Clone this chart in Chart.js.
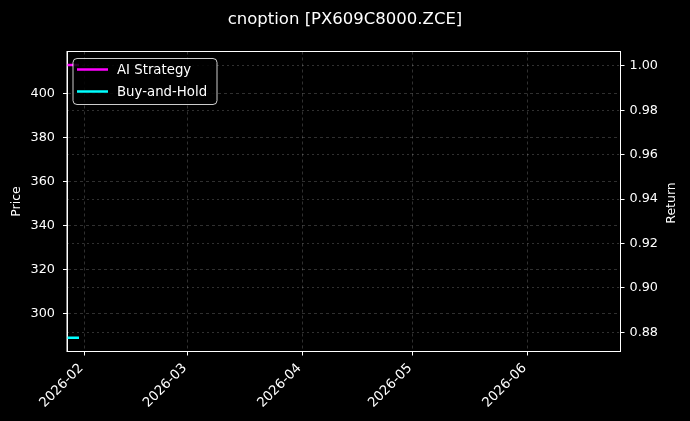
<!DOCTYPE html>
<html>
<head>
<meta charset="utf-8">
<script src="https://cdn.jsdelivr.net/npm/chart.js@4.4.1/dist/chart.umd.min.js"></script>
<style>
  html, body { margin: 0; padding: 0; background: #000; }
  #wrap { width: 690px; height: 421px; position: relative; }
</style>
</head>
<body>
<div id="wrap"><canvas id="chart"></canvas></div>
<script>
// ===== DATA =====
const dates = ['2026-01-27T07:00', '2026-01-28T12:00', '2026-01-29T12:00', '2026-01-30T13:00'];
const aiStrategy = [1.0004, 1.0004, 1.0004, 1.0004];
const buyAndHold = [0.8775, 0.8775, 0.8775, 0.8775];
const xTickLabels = ['2026-02', '2026-03', '2026-04', '2026-05', '2026-06'];
const priceTicks = [300, 320, 340, 360, 380, 400];
const returnTicks = [0.88, 0.90, 0.92, 0.94, 0.96, 0.98, 1.00];
const xRange = ['2026-01-27T07:00', '2026-06-26T05:00'];
const priceRange = [282.7, 419.1];
const returnRange = [0.87135, 1.00653];

const toMs = s => Date.parse(s.length === 7 ? s + '-01T00:00:00Z' : s + ':00Z');
const fmtMonth = v => {
    const d = new Date(v);
    return d.getUTCFullYear() + '-' + String(d.getUTCMonth() + 1).padStart(2, '0');
};

const FONT = "'DejaVu Sans', sans-serif";
const GRID = 'rgba(255,255,255,0.19)';

// ===== PLUGINS =====
const framePlugin = {
    id: 'frame',
    afterDatasetsDraw(chart) {
        const { ctx, chartArea: a } = chart;
        ctx.save();
        ctx.strokeStyle = '#fff';
        ctx.lineWidth = 1;
        ctx.strokeRect(a.left, a.top, a.right - a.left, a.bottom - a.top);
        ctx.restore();
    }
};

// right axis title reads bottom-to-top, like the left one
const returnTitle = {
    id: 'returnTitle',
    afterDraw(chart) {
        const { ctx } = chart;
        ctx.save();
        ctx.translate(672, 203);
        ctx.rotate(-Math.PI / 2);
        ctx.font = '12.5px ' + FONT;
        ctx.fillStyle = '#fff';
        ctx.textAlign = 'center';
        ctx.textBaseline = 'middle';
        ctx.fillText('Return', 0, 0);
        ctx.restore();
    }
};

const boxLegend = {
    id: 'boxLegend',
    afterDatasetsDraw(chart) {
        const { ctx, chartArea: a } = chart;
        const x = a.left + 6, y = a.top + 7, w = 144, h = 46, r = 4;
        ctx.save();
        ctx.beginPath();
        ctx.roundRect(x, y, w, h, r);
        ctx.fillStyle = 'rgba(0,0,0,0.85)';
        ctx.fill();
        ctx.strokeStyle = 'rgba(255,255,255,0.8)';
        ctx.lineWidth = 1;
        ctx.stroke();
        ctx.font = '13.3px ' + FONT;
        ctx.textBaseline = 'middle';
        chart.data.datasets.forEach((ds, i) => {
            const ly = y + 11 + i * 22;
            ctx.strokeStyle = ds.borderColor;
            ctx.lineWidth = 2.5;
            ctx.beginPath();
            ctx.moveTo(x + 4, ly);
            ctx.lineTo(x + 35, ly);
            ctx.stroke();
            ctx.fillStyle = '#fff';
            ctx.fillText(ds.label, x + 44, ly + 1);
        });
        ctx.restore();
    }
};

// ===== CHART =====
Chart.defaults.font.family = FONT;
Chart.defaults.color = '#fff';

new Chart(document.getElementById('chart'), {
    type: 'line',
    data: {
        datasets: [{
            label: 'AI Strategy',
            data: dates.map((d, i) => ({ x: toMs(d), y: aiStrategy[i] })),
            borderColor: '#ff00ff',
            borderWidth: 2.5,
            pointRadius: 0,
            yAxisID: 'yRet',
        }, {
            label: 'Buy-and-Hold',
            data: dates.map((d, i) => ({ x: toMs(d), y: buyAndHold[i] })),
            borderColor: '#00ffff',
            borderWidth: 2.5,
            pointRadius: 0,
            yAxisID: 'yRet',
        }]
    },
    options: {
        responsive: true,
        maintainAspectRatio: false,
        animation: false,
        layout: { padding: 0 },
        plugins: {
            legend: { display: false },
            tooltip: { enabled: false },
            title: {
                display: true,
                text: 'cnoption [PX609C8000.ZCE]',
                color: '#fff',
                font: { size: 16.5, weight: 'normal' },
                padding: { top: 10, bottom: 21.7 }
            }
        },
        scales: {
            x: {
                type: 'linear',
                min: toMs(xRange[0]),
                max: toMs(xRange[1]),
                afterBuildTicks: s => { s.ticks = xTickLabels.map(t => ({ value: toMs(t) })); },
                afterFit: s => { s.height = 69.5; },
                border: { color: '#fff', width: 1, dash: [3, 3] },
                grid: { color: GRID, tickColor: '#fff', tickLength: 4, tickBorderDash: [] },
                ticks: {
                    color: '#fff',
                    font: { size: 13.3 },
                    padding: 5,
                    labelOffset: -3,
                    minRotation: 45,
                    maxRotation: 45,
                    callback: v => fmtMonth(v)
                }
            },
            yPrice: {
                type: 'linear',
                position: 'left',
                min: priceRange[0],
                max: priceRange[1],
                afterBuildTicks: s => { s.ticks = priceTicks.map(v => ({ value: v })); },
                afterFit: s => { s.width = 67; },
                border: { color: '#fff', width: 1, dash: [3, 3] },
                grid: { color: GRID, tickColor: '#fff', tickLength: 4, tickBorderDash: [] },
                ticks: { color: '#fff', font: { size: 12.8 }, padding: 8, callback: v => String(v) },
                title: { display: true, text: 'Price', color: '#fff', font: { size: 12.5 }, padding: { top: 9, bottom: 0 } }
            },
            yRet: {
                type: 'linear',
                position: 'right',
                min: returnRange[0],
                max: returnRange[1],
                afterBuildTicks: s => { s.ticks = returnTicks.map(v => ({ value: v })); },
                afterFit: s => { s.width = 69.5; },
                border: { color: '#fff', width: 1, dash: [2, 3] },
                grid: { color: GRID, tickColor: '#fff', tickLength: 4, tickBorderDash: [] },
                ticks: { color: '#fff', font: { size: 12.8 }, padding: 5, callback: v => v.toFixed(2) }
            }
        }
    },
    plugins: [framePlugin, boxLegend, returnTitle]
});
</script>
</body>
</html>
